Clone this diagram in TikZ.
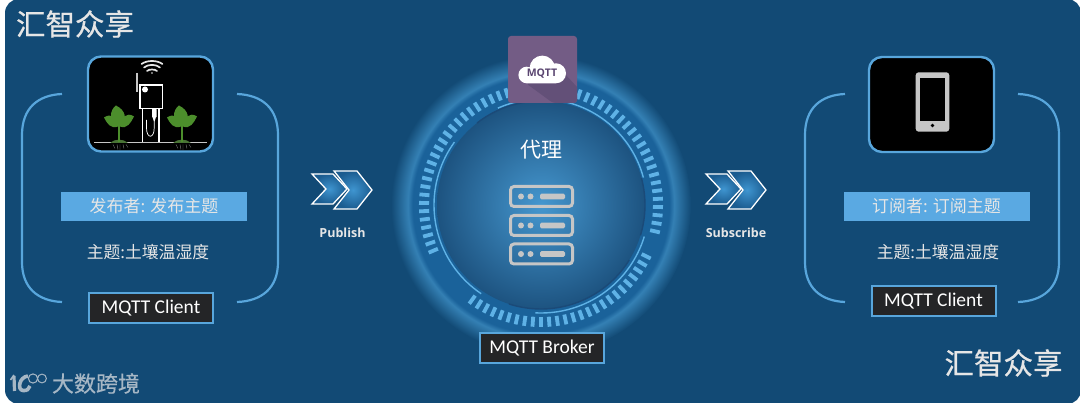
\documentclass[tikz,border=0pt]{standalone}
\usepackage{fontspec}
\setmainfont{Noto Sans CJK SC}
\newfontfamily\cjkmed[FakeBold=0.5]{Noto Sans CJK SC}
\newfontfamily\carl{Carlito}
\newfontfamily\opens{Open Sans}
\usetikzlibrary{calc}
\definecolor{bgblue}{HTML}{124A75}
\definecolor{framelight}{HTML}{58A6DC}
\definecolor{barblue}{HTML}{5AA9E2}
\definecolor{darkbox}{HTML}{242527}
\definecolor{softwhite}{HTML}{E6E6E6}
\definecolor{bandblue}{HTML}{1A629A}
\definecolor{glowblue}{HTML}{3480B4}
\definecolor{disccentre}{HTML}{4597CF}
\definecolor{discedge}{HTML}{1D5380}
\definecolor{tickblue}{HTML}{5FB2E6}
\definecolor{arcdark}{HTML}{1B4A78}
\definecolor{iconpurple}{HTML}{735C85}
\definecolor{iconshadow}{HTML}{635078}
\definecolor{cloudtext}{HTML}{5A4570}
\definecolor{icongray}{HTML}{C6C6C6}
\definecolor{leafgreen}{HTML}{4C8E2C}
\definecolor{markgray}{HTML}{A6B7C5}
\definecolor{chevcentre}{HTML}{3F95D0}
\definecolor{chevedge}{HTML}{1B5C90}
% a path's bounding box fills the central 50bp of a shading, so its edge is at 25bp
\pgfdeclareradialshading{ringglow}{\pgfpoint{0bp}{0bp}}{%
  color(0bp)=(bandblue); color(21.4bp)=(bandblue); color(22.2bp)=(glowblue); color(25bp)=(bgblue); color(50bp)=(bgblue)}
\pgfdeclareradialshading{discglow}{\pgfpoint{0bp}{0bp}}{%
  color(0bp)=(disccentre); color(25bp)=(discedge); color(50bp)=(discedge)}
\pgfdeclareradialshading{chevglow}{\pgfpoint{0bp}{0bp}}{%
  color(0bp)=(chevcentre); color(25bp)=(chevedge); color(50bp)=(chevedge)}
\tikzset{
  cjktext/.style={text=softwhite,inner sep=0pt,font=\fontsize{16.8}{18}\selectfont},
  titletext/.style={text=softwhite,inner sep=0pt,font=\cjkmed\fontsize{29.5}{32}\selectfont},
  barbox/.style={fill=barblue,minimum width=186pt,minimum height=29pt,inner sep=0pt,text=softwhite,font=\fontsize{17}{18}\selectfont},
  labelbox/.style={fill=darkbox,draw=framelight,line width=2pt,minimum width=124pt,minimum height=30pt,inner sep=0pt,text height=14pt,text depth=2pt,text=white,font=\carl\fontsize{19.5}{21}\selectfont},
  devicebox/.style={fill=black,draw=framelight,line width=2.4pt,rounded corners=13pt,minimum width=125pt,minimum height=95pt,inner sep=0pt},
  bracketline/.style={draw=framelight,line width=2.2pt},
  actiontext/.style={text=softwhite,inner sep=0pt,font=\opens\bfseries\fontsize{12.5}{14}\selectfont},
  chevron/.style={draw=white,line width=1.3pt,shading=chevglow,line join=miter},
  serverbox/.style={draw=icongray,line width=3pt,rounded corners=3.5pt,minimum width=62pt,minimum height=20pt,inner sep=0pt},
  tickmark/.style={draw=tickblue,line width=3.8pt},
  lightarc/.style={draw=tickblue,line width=1.4pt},
  darkarc/.style={draw=arcdark,line width=1.4pt},
  plantpic/.pic={
    \fill[leafgreen!70!black!90] (-9,0.5) .. controls (-4,-4) and (4,-4) .. (9,0.5) -- cycle;
    \draw[leafgreen,line width=1.2pt] (0,0) -- (0,-18);
    \fill[leafgreen] (0,-17) .. controls (-10,-21) and (-10,-32) .. (-3,-37) .. controls (7,-32) and (9,-23) .. (0,-17) -- cycle;
    \fill[leafgreen] (-1,-16) .. controls (-8,-13) and (-12,-19) .. (-15,-25) .. controls (-8,-30) and (-1,-25) .. (-1,-16) -- cycle;
    \fill[leafgreen] (1,-16) .. controls (8,-13) and (12,-20) .. (15,-26) .. controls (8,-31) and (1,-25) .. (1,-16) -- cycle;
    \draw[gray,line width=0.4pt] (-6,2) -- (-4,6) (-2,2) -- (-1,7) (1,2) -- (1,8) (4,2) -- (5,6) (7,2) -- (9,5);
  },
  chevronpair/.pic={
    \path[chevron] (0,0) -- (21,0) -- (35,15) -- (21,30) -- (0,30) -- (14,15) -- cycle;
    \path[chevron] (22,-3) -- (45,-3) -- (60,16) -- (45,35) -- (22,35) -- (37,16) -- cycle;
  }
}
\begin{document}
\begin{tikzpicture}[x=1pt,y=-1pt]
\useasboundingbox (0,0) rectangle (1080,403);
\fill[white] (0,0) rectangle (1080,403);
\fill[bgblue,rounded corners=14pt] (5,-1) rectangle (1081,404);

% central ring
\coordinate (hub) at (541,205);
\shade[shading=ringglow] (hub) circle[radius=150pt];
\shade[shading=discglow] (hub) circle[radius=104pt];
\foreach \a in {-13,-9,...,203} {
  \draw[tickmark] ({541+112*cos(\a)},{205-112*sin(\a)}) -- ({541+122*cos(\a)},{205-122*sin(\a)});
}
\foreach \a in {-26,-30,...,-126} {
  \draw[tickmark] ({541+112*cos(\a)},{205-112*sin(\a)}) -- ({541+122*cos(\a)},{205-122*sin(\a)});
}
\draw[lightarc] plot[domain=15:82,samples=40] ({541+106*cos(\x)},{205-106*sin(\x)});
\draw[lightarc] plot[domain=98:114,samples=12] ({541+106*cos(\x)},{205-106*sin(\x)});
\draw[darkarc] plot[domain=98:128,samples=16] ({541+104*cos(\x)},{205-104*sin(\x)});
\draw[lightarc] plot[domain=144:236,samples=40] ({541+107*cos(\x)},{205-107*sin(\x)});
\draw[lightarc] plot[domain=-93:-17,samples=40] ({541+108*cos(\x)},{205-108*sin(\x)});
\draw[darkarc] plot[domain=-108:-32,samples=40] ({541+104*cos(\x)},{205-104*sin(\x)});
\draw[darkarc] plot[domain=-17:15,samples=16] ({541+104*cos(\x)},{205-104*sin(\x)});

% MQTT icon
\node[fill=iconpurple,rounded corners=3pt,minimum width=69pt,minimum height=67pt,inner sep=0pt] (iconbox) at (542.5,69.5) {};
\fill[iconshadow] (526,83.3) -- (564,73) -- (577,87) -- (577,100) [rounded corners=3pt] -- (577,103) -- (553,103) -- cycle;
\fill[white] (526.7,75) circle[radius=8.3pt] (542.3,68.3) circle[radius=12.7pt] (556,73.3) circle[radius=10pt]
  (527,70) rectangle (556,83.3);
\node[text=cloudtext,inner sep=0pt,font=\opens\bfseries\fontsize{10.5}{12}\selectfont] (cloudlabel) at (542,73.5) {MQTT};

\node[text=white,inner sep=0pt,font=\fontsize{21}{22}\selectfont] (broker) at (541,149.5) {代理};

% server icon
\foreach \n/\y in {one/196.5,two/225.5,three/254} {
  \node[serverbox] (srv\n) at (541.5,\y) {};
  \fill[icongray] (521,\y) circle[radius=3pt] (530.5,\y) circle[radius=3pt];
  \fill[icongray,rounded corners=1.5pt] (540,\y-2.8) rectangle (565,\y+2.8);
}

\node[labelbox] (brokerbox) at (542,348) {MQTT Broker};

% left client
\draw[bracketline] (62,94) .. controls (38,95) and (22,108) .. (22,135) -- (22,262) .. controls (22,288) and (38,301) .. (62,302);
\draw[bracketline] (237,94) .. controls (262,95) and (278,108) .. (278,135) -- (278,262) .. controls (278,288) and (262,301) .. (237,302);
\node[devicebox] (sensorbox) at (150.5,104) {};
\draw[softwhite,line width=1.7pt,line cap=round] (147,71) .. controls (149,69) and (155,69) .. (157,71);
\draw[softwhite,line width=1.7pt,line cap=round] (144,67.5) .. controls (148,64) and (156,64) .. (160,67.5);
\draw[softwhite,line width=1.7pt,line cap=round] (141.5,64) .. controls (147,60) and (157,60) .. (162.5,64);
\fill[softwhite] (152,73) circle[radius=0.9pt];
\draw[icongray,line width=2.6pt] (137,73) -- (137,92);
\draw[white,line width=1.3pt] (142.5,108) rectangle (159,142.5);
\draw[white,line width=1.1pt,fill=black] (140,85) rectangle (162.5,108.5);
\fill[white] (145,89.5) circle[radius=3pt];
\fill[white,rounded corners=1pt] (152,108.5) rectangle (156.5,118);
\fill[white] (152.8,118) -- (155.7,118) -- (154.5,121.5) -- (154,121.5) -- cycle;
\draw[white,line width=0.7pt] (154.2,121) -- (154.2,128) .. controls (154.2,139) and (146.5,139) .. (146.5,128) -- (146.5,120);
\draw[icongray,line width=1.1pt] (94,142.7) -- (207,142.7);
\pic at (119,142.5) {plantpic};
\pic at (182,142.5) {plantpic};
\node[barbox] (pubbar) at (154,206.5) {发布者: 发布主题};
\node[cjktext] (pubtopic) at (148,252.5) {主题:土壤温湿度};
\node[labelbox] (pubclient) at (151,308) {MQTT Client};

% publish
\pic at (312,174) {chevronpair};
\node[actiontext] (publish) at (342.5,232.5) {Publish};

% subscribe
\pic at (706,174) {chevronpair};
\node[actiontext] (subscribe) at (736,233) {Subscribe};

% right client
\draw[bracketline] (845,94) .. controls (821,95) and (805,108) .. (805,135) -- (805,262) .. controls (805,288) and (821,301) .. (845,302);
\draw[bracketline] (1018,94) .. controls (1043,95) and (1059,108) .. (1059,135) -- (1059,262) .. controls (1059,288) and (1043,301) .. (1018,302);
\node[devicebox] (phonebox) at (931.5,104.5) {};
\fill[icongray,rounded corners=3pt] (915.7,72.3) rectangle (949.3,131.7);
\fill[black] (920,78.3) rectangle (945.3,121);
\fill[black] (932.5,125.5) circle[radius=1.9pt];
\node[barbox] (subbar) at (936.5,206.5) {订阅者: 订阅主题};
\node[cjktext] (subtopic) at (938,252.5) {主题:土壤温湿度};
\node[labelbox] (subclient) at (933.5,301) {MQTT Client};

% titles
\node[titletext] (titletop) at (75,24) {汇智众享};
\node[titletext] (titlebottom) at (1003.5,363) {汇智众享};

% watermark
\draw[markgray,line width=3.2pt] (14,376) -- (14.5,391);
\draw[markgray,line width=1.6pt] (10.5,380) -- (14,375);
\draw[markgray,line width=3.6pt] (28,376) .. controls (19,377) and (17,390) .. (23,390.5) .. controls (27,391) and (29,389) .. (30,386);
\draw[markgray,line width=1pt] (33,378.5) circle[radius=4.6pt] (42,378.5) circle[radius=4.4pt];
\node[text=markgray,inner sep=0pt,font=\cjkmed\fontsize{22}{24}\selectfont] (watermark) at (96,383.5) {大数跨境};
\end{tikzpicture}
\end{document}
